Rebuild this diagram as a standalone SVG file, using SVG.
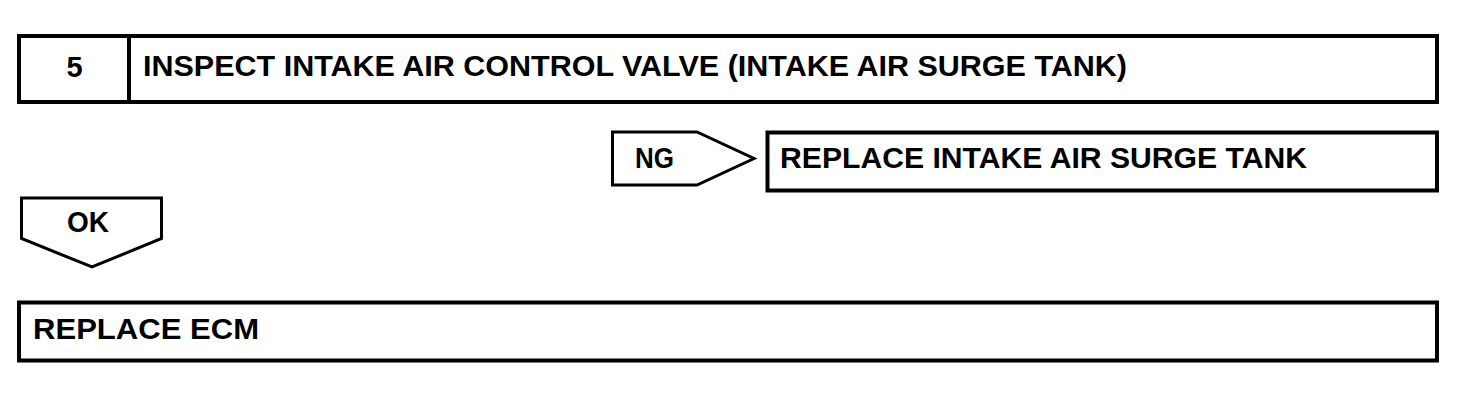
<svg xmlns="http://www.w3.org/2000/svg" width="1472" height="400" viewBox="0 0 1472 400">
<style>
.box{fill:#fff;stroke:#000;stroke-width:4}
.tag{fill:#fff;stroke:#000;stroke-width:3;stroke-linejoin:miter}
.t{font-family:"Liberation Sans",Arial,sans-serif;font-weight:bold;font-size:29px;fill:#000}
</style>
<rect width="1472" height="400" fill="#fff"/>
<g id="step5">
<rect class="box" x="19" y="36" width="1418" height="66"/>
<line x1="129" y1="36" x2="129" y2="102" stroke="#000" stroke-width="4"/>
<text class="t" x="74.5" y="76.5" text-anchor="middle">5</text>
<text class="t" x="143" y="76" textLength="984" lengthAdjust="spacingAndGlyphs">INSPECT INTAKE AIR CONTROL VALVE (INTAKE AIR SURGE TANK)</text>
</g>
<g id="connectors">
<g id="ng">
<polygon class="tag" points="612.5,132 697,132 754,158.5 697,185 612.5,185"/>
<text class="t" x="635" y="167.5" textLength="39" lengthAdjust="spacingAndGlyphs">NG</text>
</g>
<g id="ok">
<polygon class="tag" points="21.5,198 161.5,198 161.5,238.5 92,267 21.5,238.5"/>
<text class="t" x="67" y="231.5" textLength="42" lengthAdjust="spacingAndGlyphs">OK</text>
</g>
</g>
<g id="replace-tank">
<rect class="box" x="767.5" y="132.5" width="669.5" height="58"/>
<text class="t" x="780" y="168" textLength="527" lengthAdjust="spacingAndGlyphs">REPLACE INTAKE AIR SURGE TANK</text>
</g>
<g id="replace-ecm">
<rect class="box" x="19" y="302.5" width="1418" height="58"/>
<text class="t" x="33" y="338.5" textLength="226" lengthAdjust="spacingAndGlyphs">REPLACE ECM</text>
</g>
</svg>
